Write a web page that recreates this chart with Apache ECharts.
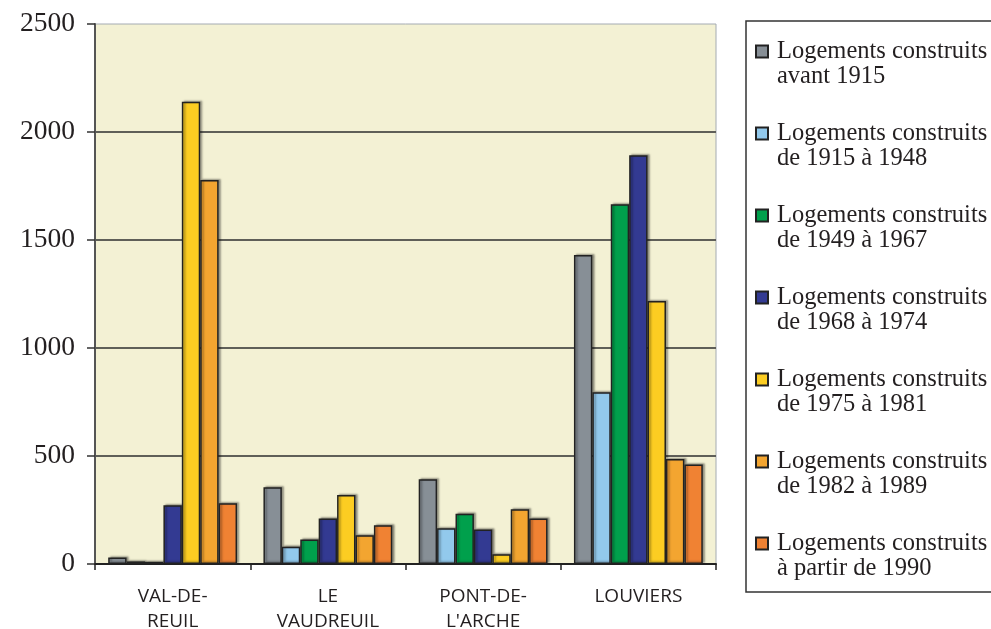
<!DOCTYPE html>
<html>
<head>
<meta charset="utf-8">
<script src="https://cdn.jsdelivr.net/npm/echarts@6/dist/echarts.min.js"></script>
<style>
  html, body { margin: 0; padding: 0; background: #ffffff; }
  #chart { width: 991px; height: 629px; }
</style>
</head>
<body>
<div id="chart"></div>
<script>
// Communes (x axis)
const communes = ['VAL-DE-\nREUIL', 'LE\nVAUDREUIL', 'PONT-DE-\nL\'ARCHE', 'LOUVIERS'];

// Y axis ticks
const yTicks = [0, 500, 1000, 1500, 2000, 2500];

// Housing built per period, one value per commune
const avant1915 = [30, 355, 392, 1430];
const de1915a1948 = [12, 80, 165, 795];
const de1949a1967 = [10, 114, 233, 1665];
const de1968a1974 = [272, 211, 160, 1892];
const de1975a1981 = [2140, 319, 45, 1218];
const de1982a1989 = [1778, 133, 253, 486];
const depuis1990 = [281, 179, 211, 461];

const periodNames = [
  'Logements construits\navant 1915',
  'Logements construits\nde 1915 à 1948',
  'Logements construits\nde 1949 à 1967',
  'Logements construits\nde 1968 à 1974',
  'Logements construits\nde 1975 à 1981',
  'Logements construits\nde 1982 à 1989',
  'Logements construits\nà partir de 1990'
];
const periodData = [avant1915, de1915a1948, de1949a1967, de1968a1974, de1975a1981, de1982a1989, depuis1990];
const periodColors = ['#878f96', '#92c9ec', '#00a04c', '#333a92', '#fccd22', '#f3a530', '#f08233'];

const serif = '"Liberation Serif", "Times New Roman", serif';
const sans = '"Open Sans", "DejaVu Sans", sans-serif';

const series = periodNames.map((name, i) => ({
  name: name,
  type: 'bar',
  data: periodData[i],
  barGap: '0%',
  barCategoryGap: '17%',
  itemStyle: {
    color: periodColors[i],
    borderColor: '#222222',
    borderWidth: 1.5,
    shadowColor: 'rgba(0,0,0,0.35)',
    shadowOffsetX: 2,
    shadowOffsetY: -1,
    shadowBlur: 2
  },
  emphasis: { disabled: true }
}));

const chart = echarts.init(document.getElementById('chart'), null, { renderer: 'canvas' });
chart.setOption({
  animation: false,
  backgroundColor: '#ffffff',
  graphic: [{
    type: 'rect',
    shape: { x: 746, y: 21, width: 260, height: 571 },
    style: { fill: '#ffffff', stroke: '#333333', lineWidth: 1.5 },
    z: -1
  }],
  grid: {
    left: 95, right: 275, top: 24, bottom: 65,
    outerBoundsMode: 'none',
    containLabel: false,
    show: true,
    backgroundColor: '#f3f1d4',
    borderColor: '#a4abb2',
    borderWidth: 1
  },
  legend: {
    orient: 'vertical',
    left: 755,
    top: 14,
    padding: 0,
    itemGap: 7,
    itemWidth: 12,
    itemHeight: 12,
    icon: 'rect',
    selectedMode: false,
    data: periodNames,
    // a leading blank line keeps the marker level with the first text line
    formatter: name => '\n' + name,
    textStyle: {
      fontFamily: serif,
      fontSize: 24.5,
      lineHeight: 25,
      color: '#231f20',
      padding: [0, 0, 0, 4]
    }
  },
  xAxis: {
    type: 'category',
    data: communes,
    axisLine: { show: true, lineStyle: { color: '#222222', width: 2 } },
    axisTick: { show: true, length: 6, lineStyle: { color: '#222222', width: 1.5 } },
    axisLabel: {
      fontFamily: sans,
      fontSize: 19,
      lineHeight: 25,
      color: '#231f20',
      margin: 20
    },
    splitLine: { show: false }
  },
  yAxis: {
    type: 'value',
    min: yTicks[0],
    max: yTicks[yTicks.length - 1],
    interval: 500,
    axisLine: { show: true, lineStyle: { color: '#555555', width: 2 } },
    axisTick: { show: true, length: 8, lineStyle: { color: '#333333', width: 1.5 } },
    axisLabel: {
      fontFamily: serif,
      fontSize: 27.5,
      color: '#231f20',
      margin: 20,
      formatter: v => String(v)
    },
    splitLine: {
      show: true,
      showMinLine: false,
      showMaxLine: false,
      lineStyle: { color: '#5f5f58', width: 2 }
    }
  },
  series: series
});
</script>
</body>
</html>
